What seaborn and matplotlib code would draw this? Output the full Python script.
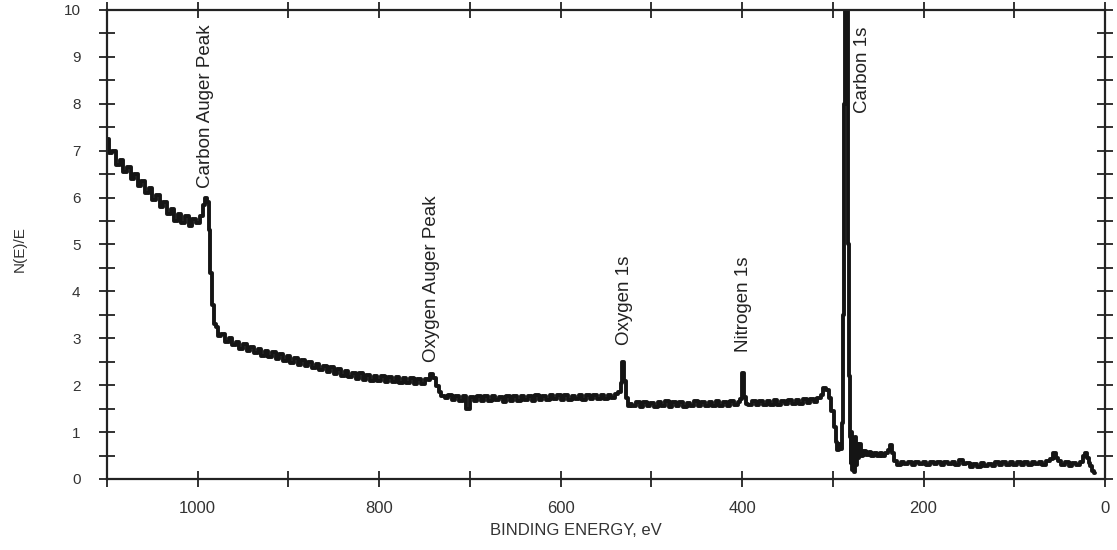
import matplotlib
matplotlib.use("Agg")
import matplotlib.pyplot as plt
import seaborn as sns
import pandas as pd
from matplotlib.ticker import MultipleLocator

sns.set_style("ticks")
plt.rcParams['font.family'] = ['Liberation Sans', 'DejaVu Sans']

# ---- data (binding energy in eV, N(E)/E) ----
# high-energy background + carbon Auger peak
e_auger_c = [1100, 1096, 1092, 1088, 1084, 1080, 1076, 1072, 1068, 1064,
             1060, 1056, 1052, 1048, 1044, 1040, 1036, 1032, 1028, 1024,
             1020, 1016, 1012, 1008, 1004, 1000, 996, 993, 991, 989,
             987, 985, 983, 981]
i_auger_c = [7.25, 6.95, 7.0, 6.7, 6.8, 6.55, 6.65, 6.4, 6.5, 6.25,
             6.35, 6.1, 6.2, 5.95, 6.05, 5.8, 5.9, 5.65, 5.75, 5.5,
             5.65, 5.45, 5.6, 5.4, 5.55, 5.45, 5.6, 5.85, 6.0, 5.9,
             5.3, 4.4, 3.7, 3.3]

# secondary background + oxygen Auger peak
e_auger_o = [979, 976, 972, 968, 964, 960, 956, 952, 948, 944,
             940, 936, 932, 928, 924, 920, 916, 912, 908, 904,
             900, 896, 892, 888, 884, 880, 876, 872, 868, 864,
             860, 856, 852, 848, 844, 840, 836, 832, 828, 824,
             820, 816, 812, 808, 804, 800, 796, 792, 788, 784,
             780, 776, 772, 768, 764, 760, 756, 752, 748, 745,
             742, 739, 736, 733, 730]
i_auger_o = [3.25, 3.05, 3.1, 2.92, 3.0, 2.85, 2.93, 2.78, 2.88, 2.72,
             2.82, 2.68, 2.77, 2.63, 2.73, 2.6, 2.7, 2.56, 2.66, 2.52,
             2.62, 2.48, 2.58, 2.44, 2.53, 2.4, 2.5, 2.36, 2.45, 2.33,
             2.41, 2.28, 2.38, 2.24, 2.34, 2.2, 2.3, 2.17, 2.27, 2.14,
             2.25, 2.12, 2.22, 2.1, 2.2, 2.08, 2.19, 2.07, 2.18, 2.06,
             2.17, 2.05, 2.16, 2.04, 2.15, 2.03, 2.14, 2.02, 2.13, 2.12,
             2.24, 2.15, 1.98, 1.85, 1.78]

# plateau + oxygen 1s
e_o1s = [726, 722, 718, 714, 710, 706, 702, 698, 694, 690,
         686, 682, 678, 674, 670, 666, 662, 658, 654, 650,
         646, 642, 638, 634, 630, 626, 622, 618, 614, 610,
         606, 602, 598, 594, 590, 586, 582, 578, 574, 570,
         566, 562, 558, 554, 550, 546, 542, 538,
         535, 533, 531, 529, 527, 525, 523]
i_o1s = [1.72, 1.8, 1.68, 1.78, 1.66, 1.76, 1.5, 1.74, 1.66, 1.77,
         1.67, 1.76, 1.66, 1.78, 1.68, 1.75, 1.65, 1.77, 1.67, 1.76,
         1.66, 1.78, 1.68, 1.77, 1.67, 1.79, 1.69, 1.78, 1.68, 1.8,
         1.7, 1.79, 1.68, 1.8, 1.69, 1.78, 1.7, 1.8, 1.69, 1.79,
         1.7, 1.8, 1.7, 1.79, 1.71, 1.8, 1.72, 1.82,
         1.85, 2.05, 2.5, 2.1, 1.72, 1.56, 1.6]

# plateau + nitrogen 1s + shoulder before carbon 1s
e_n1s = [519, 515, 511, 507, 503, 499, 495, 491, 487, 483,
         479, 475, 471, 467, 463, 459, 455, 451, 447, 443,
         439, 435, 431, 427, 423, 419, 415, 411, 407, 403,
         401, 399, 397, 395,
         391, 387, 383, 379, 375, 371, 367, 363, 359, 355,
         351, 347, 343, 339, 335, 331, 327, 323, 319, 315,
         312, 309, 306, 303, 300, 298, 296, 294, 292, 290]
i_n1s = [1.56, 1.64, 1.54, 1.65, 1.55, 1.63, 1.53, 1.64, 1.55, 1.66,
         1.54, 1.64, 1.56, 1.65, 1.54, 1.63, 1.55, 1.66, 1.56, 1.64,
         1.55, 1.65, 1.56, 1.66, 1.55, 1.64, 1.56, 1.66, 1.57, 1.65,
         1.7, 2.25, 1.75, 1.6,
         1.58, 1.66, 1.57, 1.67, 1.58, 1.66, 1.57, 1.68, 1.58, 1.67,
         1.6, 1.68, 1.59, 1.69, 1.6, 1.7, 1.62, 1.7, 1.64, 1.72,
         1.8, 1.95, 1.9, 1.72, 1.45, 1.1, 0.78, 0.62, 0.75, 0.65]

# carbon 1s peak
e_c1s = [289, 288, 287, 286, 285, 284, 283, 282, 281, 280,
         279, 278, 277, 276, 275, 274, 273, 272, 270, 268,
         265, 262, 259, 256, 253, 250, 247, 244, 241, 238,
         236, 234]
i_c1s = [1.2, 3.5, 8.0, 10.6, 11.0, 10.4, 5.0, 2.2, 0.9, 0.35,
         1.0, 0.2, 0.85, 0.15, 0.9, 0.3, 0.75, 0.45, 0.75, 0.5,
         0.6, 0.52, 0.58, 0.5, 0.56, 0.48, 0.55, 0.5, 0.56, 0.62,
         0.72, 0.55]

# low-energy tail
e_tail = [231, 227, 223, 219, 215, 211, 207, 203, 199, 195,
          191, 187, 183, 179, 175, 171, 167, 163, 159, 155,
          151, 147, 143, 139, 135, 131, 127, 123, 119, 115,
          111, 107, 103, 99, 95, 91, 87, 83, 79, 75,
          71, 67, 63, 59, 56, 53, 50, 46, 42, 38,
          34, 30, 26, 23, 21, 19, 17, 15, 13, 11]
i_tail = [0.38, 0.3, 0.37, 0.31, 0.36, 0.3, 0.37, 0.31, 0.36, 0.3,
          0.37, 0.31, 0.36, 0.3, 0.37, 0.31, 0.36, 0.3, 0.4, 0.31,
          0.35, 0.26, 0.33, 0.26, 0.34, 0.27, 0.33, 0.27, 0.36, 0.29,
          0.36, 0.3, 0.37, 0.3, 0.36, 0.29, 0.36, 0.3, 0.37, 0.31,
          0.37, 0.3, 0.38, 0.42, 0.55, 0.45, 0.38, 0.3, 0.36, 0.28,
          0.35, 0.29, 0.36, 0.5, 0.55, 0.45, 0.35, 0.28, 0.18, 0.12]

# peak annotations: (label, energy, y of text bottom)
peak_labels = ["Carbon Auger Peak", "Oxygen Auger Peak", "Oxygen 1s", "Nitrogen 1s", "Carbon 1s"]
peak_energy = [991, 742, 530, 398, 267]
peak_text_y = [6.2, 2.5, 2.86, 2.7, 7.8]

x_ticks_major = [0, 200, 400, 600, 800, 1000]

energy = e_auger_c + e_auger_o + e_o1s + e_n1s + e_c1s + e_tail
intensity = i_auger_c + i_auger_o + i_o1s + i_n1s + i_c1s + i_tail
df = pd.DataFrame({"energy": energy, "intensity": intensity})

fig = plt.figure(figsize=(11.17, 5.5), dpi=100)
ax = fig.add_axes([107 / 1117, 1 - 479 / 550, (1105 - 107) / 1117, (479 - 10) / 550])

sns.lineplot(data=df, x="energy", y="intensity", sort=False, estimator=None,
             color="#151515", linewidth=2.8, drawstyle="steps-mid", ax=ax)

ax.set_xlim(1100, 0)
ax.set_ylim(0, 10)
ax.set_xticks(x_ticks_major)
ax.xaxis.set_minor_locator(MultipleLocator(100))
ax.yaxis.set_major_locator(MultipleLocator(1))
ax.yaxis.set_minor_locator(MultipleLocator(0.5))
ax.tick_params(which="both", direction="inout", top=True, right=True,
               length=12, width=1.3, color="#222222")
ax.tick_params(axis="x", which="major", labelsize=12, pad=10, labelcolor="#333333")
ax.tick_params(axis="y", which="major", labelsize=11, pad=13, labelcolor="#333333")
for s in ax.spines.values():
    s.set_linewidth(1.6)
    s.set_color("#222222")

ax.set_xlabel("BINDING ENERGY, eV", fontsize=12, color="#333333")
ax.xaxis.set_label_coords(0.47, -0.109)
ax.xaxis.label.set_va("center")
ax.set_ylabel("N(E)/E", fontsize=11, color="#333333")
ax.yaxis.set_label_coords(-0.087, 0.49)
ax.yaxis.label.set_va("center")

for lab, ex, ty in zip(peak_labels, peak_energy, peak_text_y):
    ax.text(ex, ty, lab, rotation=90, ha="center", va="bottom",
            fontsize=13.5, color="#222222")

fig.savefig("out.png", dpi=100)
